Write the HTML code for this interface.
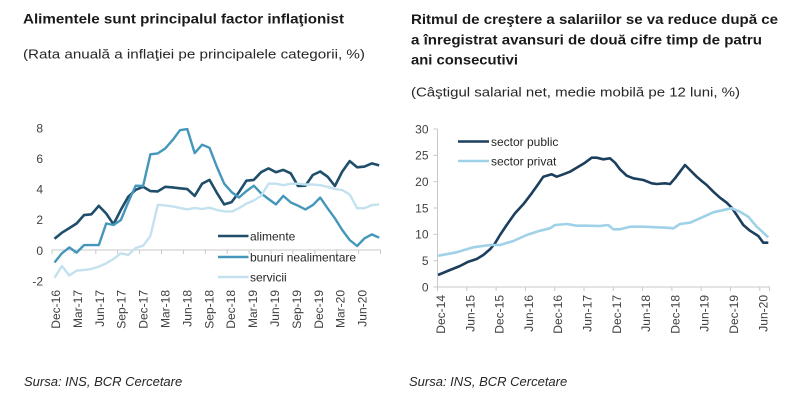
<!DOCTYPE html>
<html>
<head>
<meta charset="utf-8">
<style>
html,body{margin:0;padding:0;background:#fff;}
svg{display:block;font-family:"Liberation Sans",Arial,sans-serif;}
</style>
</head>
<body>
<svg width="800" height="403" viewBox="0 0 800 403" xmlns="http://www.w3.org/2000/svg">
<rect width="800" height="403" fill="#fff"/>

<!-- LEFT TITLES -->
<text x="23" y="23.5" font-size="13.5" font-weight="bold" fill="#1a1a1a" textLength="321" lengthAdjust="spacingAndGlyphs">Alimentele sunt principalul factor inflaţionist</text>
<text x="23" y="58.5" font-size="13" fill="#262626" textLength="342" lengthAdjust="spacingAndGlyphs">(Rata anuală a inflaţiei pe principalele categorii, %)</text>

<!-- RIGHT TITLES -->
<text x="411" y="24" font-size="13.5" font-weight="bold" fill="#1a1a1a" textLength="367" lengthAdjust="spacingAndGlyphs">Ritmul de creştere a salariilor se va reduce după ce</text>
<text x="411" y="44.5" font-size="13.5" font-weight="bold" fill="#1a1a1a" textLength="351" lengthAdjust="spacingAndGlyphs">a înregistrat avansuri de două cifre timp de patru</text>
<text x="411" y="64.5" font-size="13.5" font-weight="bold" fill="#1a1a1a" textLength="107" lengthAdjust="spacingAndGlyphs">ani consecutivi</text>
<text x="411" y="96.5" font-size="13" fill="#262626" textLength="329" lengthAdjust="spacingAndGlyphs">(Câştigul salarial net, medie mobilă pe 12 luni, %)</text>

<!-- LEFT CHART -->
<g font-size="12" fill="#404040" text-anchor="end">
<text x="43" y="132.4">8</text>
<text x="43" y="163">6</text>
<text x="43" y="193.6">4</text>
<text x="43" y="224.2">2</text>
<text x="43" y="254.8">0</text>
<text x="43" y="285.4">-2</text>
</g>
<line x1="52" y1="250" x2="381" y2="250" stroke="#c8c8c8" stroke-width="1"/>
<g stroke="#c8c8c8" stroke-width="1">
<line x1="52" y1="250" x2="52" y2="254"/><line x1="73.9" y1="250" x2="73.9" y2="254"/><line x1="95.8" y1="250" x2="95.8" y2="254"/><line x1="117.7" y1="250" x2="117.7" y2="254"/><line x1="139.6" y1="250" x2="139.6" y2="254"/><line x1="161.5" y1="250" x2="161.5" y2="254"/><line x1="183.4" y1="250" x2="183.4" y2="254"/><line x1="205.3" y1="250" x2="205.3" y2="254"/><line x1="227.2" y1="250" x2="227.2" y2="254"/><line x1="249.1" y1="250" x2="249.1" y2="254"/><line x1="271" y1="250" x2="271" y2="254"/><line x1="292.9" y1="250" x2="292.9" y2="254"/><line x1="314.8" y1="250" x2="314.8" y2="254"/><line x1="336.7" y1="250" x2="336.7" y2="254"/><line x1="358.6" y1="250" x2="358.6" y2="254"/><line x1="380.5" y1="250" x2="380.5" y2="254"/>
</g>
<g font-size="12" fill="#404040" text-anchor="end">
<text transform="translate(60,290) rotate(-90)">Dec-16</text>
<text transform="translate(81.9,290) rotate(-90)">Mar-17</text>
<text transform="translate(103.8,290) rotate(-90)">Jun-17</text>
<text transform="translate(125.7,290) rotate(-90)">Sep-17</text>
<text transform="translate(147.6,290) rotate(-90)">Dec-17</text>
<text transform="translate(169.5,290) rotate(-90)">Mar-18</text>
<text transform="translate(191.4,290) rotate(-90)">Jun-18</text>
<text transform="translate(213.3,290) rotate(-90)">Sep-18</text>
<text transform="translate(235.2,290) rotate(-90)">Dec-18</text>
<text transform="translate(257.1,290) rotate(-90)">Mar-19</text>
<text transform="translate(279,290) rotate(-90)">Jun-19</text>
<text transform="translate(300.9,290) rotate(-90)">Sep-19</text>
<text transform="translate(322.8,290) rotate(-90)">Dec-19</text>
<text transform="translate(344.7,290) rotate(-90)">Mar-20</text>
<text transform="translate(366.6,290) rotate(-90)">Jun-20</text>
</g>

<!-- alimente -->
<polyline fill="none" stroke="#1f4e6b" stroke-width="2.6" stroke-linejoin="round" points="54.5,238.8 61.9,232.7 69.3,228.1 76.6,223.5 84.0,215.1 91.4,214.3 98.8,205.9 106.2,213.5 113.5,224.3 120.9,209.7 128.3,196.7 135.7,189.8 143.1,186.8 150.4,191.1 157.8,191.4 165.2,186.8 172.6,187.4 180.0,188.3 187.3,189.1 194.7,195.9 202.1,183.7 209.5,179.9 216.9,192.9 224.2,204.4 231.6,202.1 239.0,192.1 246.4,180.7 253.8,179.9 261.1,172.2 268.5,168.4 275.9,172.2 283.3,169.9 290.7,173.3 298.0,186.0 305.4,185.7 312.8,175.0 320.2,171.5 327.6,176.7 334.9,186.0 342.3,171.5 349.7,161.1 357.1,167.3 364.5,166.6 371.8,163.4 379.2,165.4"/>
<!-- bunuri nealimentare -->
<polyline fill="none" stroke="#4497bb" stroke-width="2.4" stroke-linejoin="round" points="54.5,262.5 61.9,253.3 69.3,247.4 76.6,252.6 84.0,245.1 91.4,245.1 98.8,245.1 106.2,223.5 113.5,225.0 120.9,220.0 128.3,202.1 135.7,185.7 143.1,186.0 150.4,154.3 157.8,153.4 165.2,148.5 172.6,140.1 180.0,130.2 187.3,129.1 194.7,153.1 202.1,144.7 209.5,147.8 216.9,166.9 224.2,183.7 231.6,192.1 239.0,197.5 246.4,191.1 253.8,185.7 261.1,193.3 268.5,199.0 275.9,204.4 283.3,195.9 290.7,202.4 298.0,205.7 305.4,209.4 312.8,205.1 320.2,197.6 327.6,208.3 334.9,218.3 342.3,230.1 349.7,240.0 357.1,246.0 364.5,238.3 371.8,234.4 379.2,237.7"/>
<!-- servicii -->
<polyline fill="none" stroke="#c3e1ef" stroke-width="2.4" stroke-linejoin="round" points="54.5,277.8 61.9,266.0 69.3,275.5 76.6,270.6 84.0,270.0 91.4,268.9 98.8,266.6 106.2,263.3 113.5,259.0 120.9,253.3 128.3,254.9 135.7,248.0 143.1,245.7 150.4,236.0 157.8,204.8 165.2,205.4 172.6,206.4 180.0,207.9 187.3,209.4 194.7,207.9 202.1,209.0 209.5,207.7 216.9,210.0 224.2,211.3 231.6,211.6 239.0,208.2 246.4,203.6 253.8,200.5 261.1,195.9 268.5,183.7 275.9,183.7 283.3,185.2 290.7,183.7 298.0,183.7 305.4,184.5 312.8,184.5 320.2,185.2 327.6,186.8 334.9,189.1 342.3,190.1 349.7,194.4 357.1,208.2 364.5,208.2 371.8,205.1 379.2,204.4"/>

<!-- left legend -->
<line x1="218" y1="236" x2="248.5" y2="236" stroke="#1f4e6b" stroke-width="2.6"/>
<text x="250" y="240.3" font-size="12" fill="#262626">alimente</text>
<line x1="218" y1="257" x2="248.5" y2="257" stroke="#4497bb" stroke-width="2.4"/>
<text x="250" y="261.3" font-size="12" fill="#262626">bunuri nealimentare</text>
<line x1="218" y1="277" x2="248.5" y2="277" stroke="#c3e1ef" stroke-width="2.4"/>
<text x="250" y="281.3" font-size="12" fill="#262626">servicii</text>

<!-- RIGHT CHART -->
<g font-size="12" fill="#404040" text-anchor="end">
<text x="428.5" y="133.3">30</text>
<text x="428.5" y="159.6">25</text>
<text x="428.5" y="186">20</text>
<text x="428.5" y="212.3">15</text>
<text x="428.5" y="238.7">10</text>
<text x="428.5" y="265">5</text>
<text x="428.5" y="291.3">0</text>
</g>
<g stroke="#c8c8c8" stroke-width="1">
<line x1="437.5" y1="129" x2="437.5" y2="287"/>
<line x1="433.5" y1="129" x2="437.5" y2="129"/>
<line x1="433.5" y1="155.3" x2="437.5" y2="155.3"/>
<line x1="433.5" y1="181.7" x2="437.5" y2="181.7"/>
<line x1="433.5" y1="208" x2="437.5" y2="208"/>
<line x1="433.5" y1="234.3" x2="437.5" y2="234.3"/>
<line x1="433.5" y1="260.7" x2="437.5" y2="260.7"/>
<line x1="433.5" y1="287" x2="770" y2="287"/>
<line x1="437.5" y1="287" x2="437.5" y2="291"/><line x1="466.8" y1="287" x2="466.8" y2="291"/><line x1="496.1" y1="287" x2="496.1" y2="291"/><line x1="525.4" y1="287" x2="525.4" y2="291"/><line x1="554.7" y1="287" x2="554.7" y2="291"/><line x1="584" y1="287" x2="584" y2="291"/><line x1="613.3" y1="287" x2="613.3" y2="291"/><line x1="642.6" y1="287" x2="642.6" y2="291"/><line x1="671.9" y1="287" x2="671.9" y2="291"/><line x1="701.2" y1="287" x2="701.2" y2="291"/><line x1="730.5" y1="287" x2="730.5" y2="291"/><line x1="759.8" y1="287" x2="759.8" y2="291"/><line x1="769.5" y1="287" x2="769.5" y2="291"/>
</g>
<g font-size="12" fill="#404040" text-anchor="end">
<text transform="translate(445,295) rotate(-90)">Dec-14</text>
<text transform="translate(474.3,295) rotate(-90)">Jun-15</text>
<text transform="translate(503.6,295) rotate(-90)">Dec-15</text>
<text transform="translate(532.9,295) rotate(-90)">Jun-16</text>
<text transform="translate(562.2,295) rotate(-90)">Dec-16</text>
<text transform="translate(591.5,295) rotate(-90)">Jun-17</text>
<text transform="translate(620.8,295) rotate(-90)">Dec-17</text>
<text transform="translate(650.1,295) rotate(-90)">Jun-18</text>
<text transform="translate(679.4,295) rotate(-90)">Dec-18</text>
<text transform="translate(708.7,295) rotate(-90)">Jun-19</text>
<text transform="translate(738,295) rotate(-90)">Dec-19</text>
<text transform="translate(767.3,295) rotate(-90)">Jun-20</text>
</g>

<!-- sector public -->
<polyline fill="none" stroke="#1c3f5e" stroke-width="2.6" stroke-linejoin="round" points="438,275 450,270 460,266 468.3,261.7 476.7,259 483.3,255 490,249.3 495,243.3 500,235 506.7,225 515,213.3 523.3,204.3 531.7,193.3 538.3,184 543.3,176.7 551.7,174.3 556.7,176.7 563.3,174.3 570,171.7 578.3,166.7 585,162.7 591.7,157.7 596.7,157.7 603.3,159.3 610,158.3 615,162.7 620,169.3 626.7,175.7 633.3,178.3 643.3,180 651.7,183.3 656.7,184 665,183.3 670,184 675,178.3 680,171.7 685,165 690,170 696.7,176.7 701.7,181 706.7,185 713.3,191.7 720,197.7 726.7,202.7 731.7,207.7 736.7,215 743.3,225 750,230.7 758.3,236 763.3,242.7 768.3,242.7"/>
<!-- sector privat -->
<polyline fill="none" stroke="#9fd1e8" stroke-width="2.6" stroke-linejoin="round" points="438.3,255.7 456.7,252.3 473.3,247.3 490,245 500,245 513.3,241 526.7,235 540,230.7 550,228.3 555,225 566.7,224 576.7,225.7 586.7,225.7 600,226 608.3,225 613.3,229.3 620,229.3 630,226.7 643.3,226.7 656.7,227.3 666.7,227.7 673.3,228.3 680,224 690,222.7 700,218.3 713.3,212.3 726.7,209.3 731.7,208.3 740,211.7 748.3,216.7 756.7,226.7 763.3,232.7 768.3,237.3"/>

<!-- right legend -->
<line x1="458" y1="141.5" x2="489" y2="141.5" stroke="#1c3f5e" stroke-width="2.6"/>
<text x="491" y="145.8" font-size="12" fill="#262626">sector public</text>
<line x1="458" y1="161" x2="489" y2="161" stroke="#9fd1e8" stroke-width="2.6"/>
<text x="491" y="165.3" font-size="12" fill="#262626">sector privat</text>

<!-- SOURCES -->
<text x="24" y="386" font-size="13" font-style="italic" fill="#262626">Sursa: INS, BCR Cercetare</text>
<text x="409" y="386" font-size="13" font-style="italic" fill="#262626">Sursa: INS, BCR Cercetare</text>
</svg>
</body>
</html>
